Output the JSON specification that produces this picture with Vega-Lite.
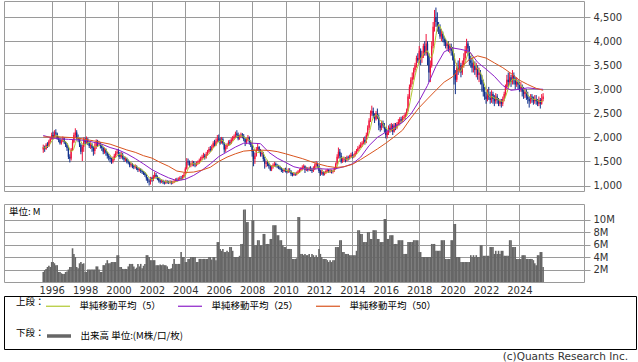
{
"$schema":"https://vega.github.io/schema/vega-lite/v6.json",
"padding":{"left":3,"top":0,"right":0,"bottom":0},
"background":"white",
"config":{
 "font":"DejaVu Sans",
 "view":{"stroke":"#9a9a9a","strokeWidth":1},
 "axis":{"labelFont":"DejaVu Sans","labelFontSize":10,"labelColor":"#333333","gridColor":"#9a9a9a","gridWidth":1,"gridOpacity":1,"tickColor":"#9a9a9a","domainColor":"#9a9a9a"},
 "legend":{"labelFont":"Noto Sans CJK JP","labelFontSize":9.5,"labelColor":"#000000","titleFont":"Noto Sans CJK JP","titleFontSize":9.5,"titleFontWeight":"normal","titleColor":"#000000","padding":0,"symbolType":"stroke","symbolSize":576,"symbolStrokeWidth":1.2,"labelOffset":8.5,"columnPadding":14,"titlePadding":0}
},
"datasets":{
"c":[
{"t":"1995-07","o":1750,"h":1850,"l":1680,"c":1800,"v":1.6,"m":1790},
{"t":"1995-08","o":1800,"h":1830,"l":1700,"c":1760,"v":1.9,"m":1780},
{"t":"1995-09","o":1760,"h":1880,"l":1740,"c":1850,"v":2.1,"m":1800},
{"t":"1995-10","o":1850,"h":1900,"l":1780,"c":1820,"v":2.4,"m":1810},
{"t":"1995-11","o":1820,"h":1950,"l":1800,"c":1920,"v":2.6,"m":1830},
{"t":"1995-12","o":1920,"h":2000,"l":1880,"c":1980,"v":2.4,"m":1866},
{"t":"1996-01","o":1980,"h":2100,"l":1950,"c":2050,"v":3.2,"m":1924},
{"t":"1996-02","o":2050,"h":2120,"l":1960,"c":2000,"v":3.2,"m":1954},
{"t":"1996-03","o":2000,"h":2150,"l":1980,"c":2100,"v":3.0,"m":2010},
{"t":"1996-04","o":2100,"h":2170,"l":2020,"c":2080,"v":2.7,"m":2042},
{"t":"1996-05","o":2080,"h":2100,"l":1950,"c":1980,"v":2.7,"m":2042},
{"t":"1996-06","o":1980,"h":2020,"l":1900,"c":1950,"v":1.6,"m":2022},
{"t":"1996-07","o":1950,"h":1980,"l":1850,"c":1880,"v":1.6,"m":1998},
{"t":"1996-08","o":1880,"h":1960,"l":1850,"c":1920,"v":1.4,"m":1962},
{"t":"1996-09","o":1920,"h":2020,"l":1900,"c":1980,"v":1.3,"m":1942},
{"t":"1996-10","o":1980,"h":2000,"l":1860,"c":1900,"v":1.3,"m":1926},
{"t":"1996-11","o":1900,"h":1920,"l":1800,"c":1850,"v":1.6,"m":1906},
{"t":"1996-12","o":1850,"h":1880,"l":1720,"c":1780,"v":1.7,"m":1886},
{"t":"1997-01","o":1780,"h":1800,"l":1550,"c":1600,"v":2.0,"m":1822},
{"t":"1997-02","o":1600,"h":1650,"l":1480,"c":1560,"v":2.4,"m":1738},
{"t":"1997-03","o":1560,"h":1780,"l":1520,"c":1750,"v":2.4,"m":1708},
{"t":"1997-04","o":1750,"h":1950,"l":1720,"c":1900,"v":5.4,"m":1718},
{"t":"1997-05","o":1900,"h":2100,"l":1880,"c":2050,"v":4.5,"m":1772},
{"t":"1997-06","o":2050,"h":2190,"l":2000,"c":2100,"v":4.0,"m":1872},
{"t":"1997-07","o":2100,"h":2150,"l":1950,"c":2000,"v":2.4,"m":1960},
{"t":"1997-08","o":2000,"h":2060,"l":1900,"c":1950,"v":2.2,"m":2000},
{"t":"1997-09","o":1950,"h":1990,"l":1800,"c":1850,"v":3.0,"m":1990},
{"t":"1997-10","o":1850,"h":1880,"l":1650,"c":1700,"v":3.2,"m":1920},
{"t":"1997-11","o":1700,"h":1850,"l":1510,"c":1800,"v":2.9,"m":1860},
{"t":"1997-12","o":1800,"h":2000,"l":1700,"c":1950,"v":3.0,"m":1850},
{"t":"1998-01","o":1950,"h":2000,"l":1850,"c":1900,"v":1.6,"m":1840},
{"t":"1998-02","o":1900,"h":2020,"l":1870,"c":1950,"v":1.6,"m":1860},
{"t":"1998-03","o":1950,"h":1990,"l":1840,"c":1880,"v":2.0,"m":1896},
{"t":"1998-04","o":1880,"h":1920,"l":1780,"c":1820,"v":2.0,"m":1900},
{"t":"1998-05","o":1820,"h":1900,"l":1760,"c":1850,"v":2.0,"m":1880},
{"t":"1998-06","o":1850,"h":1880,"l":1700,"c":1780,"v":2.0,"m":1856},
{"t":"1998-07","o":1780,"h":1820,"l":1620,"c":1720,"v":2.0,"m":1810},
{"t":"1998-08","o":1720,"h":1880,"l":1650,"c":1800,"v":2.0,"m":1794},
{"t":"1998-09","o":1800,"h":1960,"l":1760,"c":1900,"v":2.5,"m":1810},
{"t":"1998-10","o":1900,"h":1950,"l":1800,"c":1860,"v":2.5,"m":1812},
{"t":"1998-11","o":1860,"h":1930,"l":1820,"c":1880,"v":2.0,"m":1832},
{"t":"1998-12","o":1880,"h":1900,"l":1770,"c":1820,"v":1.6,"m":1852},
{"t":"1999-01","o":1820,"h":1850,"l":1720,"c":1780,"v":1.6,"m":1848},
{"t":"1999-02","o":1780,"h":1800,"l":1650,"c":1700,"v":2.7,"m":1808},
{"t":"1999-03","o":1700,"h":1790,"l":1660,"c":1750,"v":2.7,"m":1786},
{"t":"1999-04","o":1750,"h":1770,"l":1620,"c":1680,"v":3.0,"m":1746},
{"t":"1999-05","o":1680,"h":1700,"l":1560,"c":1620,"v":3.5,"m":1706},
{"t":"1999-06","o":1620,"h":1660,"l":1520,"c":1580,"v":3.0,"m":1666},
{"t":"1999-07","o":1580,"h":1620,"l":1480,"c":1550,"v":3.0,"m":1636},
{"t":"1999-08","o":1550,"h":1580,"l":1450,"c":1500,"v":3.2,"m":1586},
{"t":"1999-09","o":1500,"h":1600,"l":1460,"c":1560,"v":3.2,"m":1562},
{"t":"1999-10","o":1560,"h":1660,"l":1520,"c":1620,"v":3.2,"m":1562},
{"t":"1999-11","o":1620,"h":1720,"l":1580,"c":1680,"v":3.2,"m":1582},
{"t":"1999-12","o":1680,"h":1760,"l":1640,"c":1700,"v":4.3,"m":1612},
{"t":"2000-01","o":1700,"h":1760,"l":1600,"c":1650,"v":4.3,"m":1642},
{"t":"2000-02","o":1650,"h":1700,"l":1550,"c":1600,"v":2.4,"m":1650},
{"t":"2000-03","o":1600,"h":1700,"l":1560,"c":1640,"v":2.4,"m":1654},
{"t":"2000-04","o":1640,"h":1680,"l":1540,"c":1580,"v":2.1,"m":1634},
{"t":"2000-05","o":1580,"h":1610,"l":1490,"c":1540,"v":2.1,"m":1602},
{"t":"2000-06","o":1540,"h":1600,"l":1500,"c":1560,"v":2.1,"m":1584},
{"t":"2000-07","o":1560,"h":1580,"l":1460,"c":1500,"v":2.1,"m":1564},
{"t":"2000-08","o":1500,"h":1540,"l":1440,"c":1480,"v":2.5,"m":1532},
{"t":"2000-09","o":1480,"h":1500,"l":1380,"c":1420,"v":2.9,"m":1500},
{"t":"2000-10","o":1420,"h":1480,"l":1380,"c":1440,"v":2.9,"m":1480},
{"t":"2000-11","o":1440,"h":1470,"l":1360,"c":1400,"v":2.9,"m":1448},
{"t":"2000-12","o":1400,"h":1430,"l":1340,"c":1380,"v":2.5,"m":1424},
{"t":"2001-01","o":1380,"h":1440,"l":1350,"c":1400,"v":2.1,"m":1408},
{"t":"2001-02","o":1400,"h":1420,"l":1320,"c":1360,"v":2.3,"m":1396},
{"t":"2001-03","o":1360,"h":1380,"l":1280,"c":1320,"v":2.9,"m":1372},
{"t":"2001-04","o":1320,"h":1370,"l":1290,"c":1340,"v":2.5,"m":1360},
{"t":"2001-05","o":1340,"h":1360,"l":1260,"c":1300,"v":2.9,"m":1344},
{"t":"2001-06","o":1300,"h":1330,"l":1240,"c":1280,"v":2.2,"m":1320},
{"t":"2001-07","o":1280,"h":1300,"l":1220,"c":1260,"v":2.6,"m":1300},
{"t":"2001-08","o":1260,"h":1280,"l":1180,"c":1220,"v":2.9,"m":1280},
{"t":"2001-09","o":1220,"h":1240,"l":1100,"c":1150,"v":4.3,"m":1242},
{"t":"2001-10","o":1150,"h":1180,"l":1050,"c":1100,"v":4.3,"m":1202},
{"t":"2001-11","o":1100,"h":1130,"l":1000,"c":1080,"v":4.0,"m":1162},
{"t":"2001-12","o":1080,"h":1180,"l":1020,"c":1150,"v":3.5,"m":1140},
{"t":"2002-01","o":1150,"h":1180,"l":1080,"c":1120,"v":3.5,"m":1120},
{"t":"2002-02","o":1120,"h":1220,"l":1090,"c":1180,"v":3.5,"m":1126},
{"t":"2002-03","o":1180,"h":1280,"l":1150,"c":1220,"v":3.5,"m":1150},
{"t":"2002-04","o":1220,"h":1260,"l":1140,"c":1180,"v":2.7,"m":1170},
{"t":"2002-05","o":1180,"h":1210,"l":1110,"c":1150,"v":2.7,"m":1170},
{"t":"2002-06","o":1150,"h":1170,"l":1060,"c":1100,"v":2.7,"m":1166},
{"t":"2002-07","o":1100,"h":1130,"l":1040,"c":1080,"v":2.8,"m":1146},
{"t":"2002-08","o":1080,"h":1130,"l":1050,"c":1100,"v":2.7,"m":1122},
{"t":"2002-09","o":1100,"h":1120,"l":1030,"c":1070,"v":2.8,"m":1100},
{"t":"2002-10","o":1070,"h":1100,"l":1020,"c":1060,"v":2.7,"m":1082},
{"t":"2002-11","o":1060,"h":1120,"l":1030,"c":1090,"v":2.7,"m":1080},
{"t":"2002-12","o":1090,"h":1110,"l":1040,"c":1070,"v":2.5,"m":1078},
{"t":"2003-01","o":1070,"h":1100,"l":1030,"c":1060,"v":2.1,"m":1070},
{"t":"2003-02","o":1060,"h":1110,"l":1040,"c":1080,"v":2.1,"m":1072},
{"t":"2003-03","o":1080,"h":1100,"l":1020,"c":1050,"v":2.2,"m":1070},
{"t":"2003-04","o":1050,"h":1100,"l":1030,"c":1070,"v":2.9,"m":1066},
{"t":"2003-05","o":1070,"h":1120,"l":1050,"c":1090,"v":3.7,"m":1070},
{"t":"2003-06","o":1090,"h":1150,"l":1070,"c":1120,"v":2.9,"m":1082},
{"t":"2003-07","o":1120,"h":1160,"l":1080,"c":1100,"v":2.9,"m":1086},
{"t":"2003-08","o":1100,"h":1170,"l":1090,"c":1130,"v":2.9,"m":1102},
{"t":"2003-09","o":1130,"h":1190,"l":1110,"c":1150,"v":2.9,"m":1118},
{"t":"2003-10","o":1150,"h":1200,"l":1110,"c":1140,"v":4.8,"m":1128},
{"t":"2003-11","o":1140,"h":1220,"l":1120,"c":1180,"v":4.0,"m":1140},
{"t":"2003-12","o":1180,"h":1260,"l":1160,"c":1220,"v":4.0,"m":1164},
{"t":"2004-01","o":1220,"h":1380,"l":1200,"c":1350,"v":3.2,"m":1208},
{"t":"2004-02","o":1350,"h":1570,"l":1330,"c":1500,"v":3.2,"m":1278},
{"t":"2004-03","o":1500,"h":1560,"l":1420,"c":1480,"v":3.7,"m":1346},
{"t":"2004-04","o":1480,"h":1520,"l":1380,"c":1420,"v":3.7,"m":1394},
{"t":"2004-05","o":1420,"h":1480,"l":1380,"c":1440,"v":4.0,"m":1438},
{"t":"2004-06","o":1440,"h":1520,"l":1400,"c":1480,"v":4.0,"m":1464},
{"t":"2004-07","o":1480,"h":1510,"l":1400,"c":1450,"v":4.0,"m":1454},
{"t":"2004-08","o":1450,"h":1480,"l":1380,"c":1420,"v":4.0,"m":1442},
{"t":"2004-09","o":1420,"h":1500,"l":1400,"c":1460,"v":3.2,"m":1450},
{"t":"2004-10","o":1460,"h":1520,"l":1430,"c":1480,"v":3.2,"m":1458},
{"t":"2004-11","o":1480,"h":1560,"l":1450,"c":1520,"v":3.7,"m":1466},
{"t":"2004-12","o":1520,"h":1600,"l":1490,"c":1560,"v":3.7,"m":1488},
{"t":"2005-01","o":1560,"h":1640,"l":1530,"c":1600,"v":3.7,"m":1524},
{"t":"2005-02","o":1600,"h":1680,"l":1570,"c":1620,"v":3.7,"m":1556},
{"t":"2005-03","o":1620,"h":1660,"l":1540,"c":1580,"v":3.7,"m":1576},
{"t":"2005-04","o":1580,"h":1700,"l":1560,"c":1650,"v":3.7,"m":1602},
{"t":"2005-05","o":1650,"h":1740,"l":1620,"c":1700,"v":3.7,"m":1630},
{"t":"2005-06","o":1700,"h":1800,"l":1670,"c":1760,"v":4.0,"m":1662},
{"t":"2005-07","o":1760,"h":1820,"l":1700,"c":1740,"v":4.0,"m":1686},
{"t":"2005-08","o":1740,"h":1850,"l":1720,"c":1800,"v":3.6,"m":1730},
{"t":"2005-09","o":1800,"h":1920,"l":1780,"c":1880,"v":4.0,"m":1776},
{"t":"2005-10","o":1880,"h":1950,"l":1810,"c":1850,"v":4.0,"m":1806},
{"t":"2005-11","o":1850,"h":1980,"l":1820,"c":1920,"v":3.5,"m":1838},
{"t":"2005-12","o":1920,"h":2050,"l":1900,"c":1980,"v":6.4,"m":1886},
{"t":"2006-01","o":1980,"h":2060,"l":1900,"c":1950,"v":6.4,"m":1916},
{"t":"2006-02","o":1950,"h":2000,"l":1850,"c":1900,"v":5.3,"m":1920},
{"t":"2006-03","o":1900,"h":2010,"l":1870,"c":1960,"v":5.0,"m":1942},
{"t":"2006-04","o":1960,"h":2000,"l":1850,"c":1880,"v":5.3,"m":1934},
{"t":"2006-05","o":1880,"h":1900,"l":1680,"c":1750,"v":4.8,"m":1888},
{"t":"2006-06","o":1750,"h":1850,"l":1700,"c":1800,"v":4.8,"m":1858},
{"t":"2006-07","o":1800,"h":1880,"l":1760,"c":1850,"v":5.0,"m":1848},
{"t":"2006-08","o":1850,"h":1940,"l":1820,"c":1900,"v":4.8,"m":1836},
{"t":"2006-09","o":1900,"h":1950,"l":1840,"c":1880,"v":5.6,"m":1836},
{"t":"2006-10","o":1880,"h":1990,"l":1860,"c":1950,"v":5.6,"m":1876},
{"t":"2006-11","o":1950,"h":2030,"l":1920,"c":1980,"v":5.0,"m":1912},
{"t":"2006-12","o":1980,"h":2060,"l":1950,"c":2020,"v":4.0,"m":1946},
{"t":"2007-01","o":2020,"h":2120,"l":1990,"c":2080,"v":4.0,"m":1982},
{"t":"2007-02","o":2080,"h":2150,"l":2000,"c":2050,"v":4.0,"m":2016},
{"t":"2007-03","o":2050,"h":2100,"l":1940,"c":1980,"v":4.0,"m":2022},
{"t":"2007-04","o":1980,"h":2060,"l":1950,"c":2020,"v":4.2,"m":2030},
{"t":"2007-05","o":2020,"h":2100,"l":1990,"c":2060,"v":6.1,"m":2038},
{"t":"2007-06","o":2060,"h":2090,"l":1980,"c":2030,"v":6.1,"m":2028},
{"t":"2007-07","o":2030,"h":2070,"l":1920,"c":1960,"v":11.6,"m":2010},
{"t":"2007-08","o":1960,"h":1990,"l":1820,"c":1900,"v":11.6,"m":1994},
{"t":"2007-09","o":1900,"h":1990,"l":1860,"c":1950,"v":9.6,"m":1980},
{"t":"2007-10","o":1950,"h":2050,"l":1920,"c":2000,"v":9.6,"m":1968},
{"t":"2007-11","o":2000,"h":2020,"l":1850,"c":1900,"v":4.0,"m":1942},
{"t":"2007-12","o":1900,"h":1940,"l":1800,"c":1850,"v":4.0,"m":1920},
{"t":"2008-01","o":1850,"h":1880,"l":1600,"c":1700,"v":9.9,"m":1880},
{"t":"2008-02","o":1700,"h":1750,"l":1400,"c":1550,"v":9.9,"m":1800},
{"t":"2008-03","o":1550,"h":1680,"l":1450,"c":1620,"v":5.9,"m":1724},
{"t":"2008-04","o":1620,"h":1800,"l":1600,"c":1750,"v":5.9,"m":1694},
{"t":"2008-05","o":1750,"h":1870,"l":1720,"c":1800,"v":6.7,"m":1684},
{"t":"2008-06","o":1800,"h":1820,"l":1680,"c":1720,"v":6.7,"m":1688},
{"t":"2008-07","o":1720,"h":1760,"l":1600,"c":1650,"v":5.9,"m":1708},
{"t":"2008-08","o":1650,"h":1720,"l":1600,"c":1680,"v":5.9,"m":1720},
{"t":"2008-09","o":1680,"h":1700,"l":1500,"c":1550,"v":7.7,"m":1680},
{"t":"2008-10","o":1550,"h":1600,"l":1350,"c":1450,"v":7.7,"m":1610},
{"t":"2008-11","o":1450,"h":1520,"l":1380,"c":1480,"v":6.1,"m":1562},
{"t":"2008-12","o":1480,"h":1520,"l":1400,"c":1450,"v":6.1,"m":1522},
{"t":"2009-01","o":1450,"h":1480,"l":1350,"c":1400,"v":6.1,"m":1466},
{"t":"2009-02","o":1400,"h":1430,"l":1300,"c":1330,"v":6.9,"m":1422},
{"t":"2009-03","o":1330,"h":1420,"l":1300,"c":1380,"v":6.9,"m":1408},
{"t":"2009-04","o":1380,"h":1460,"l":1350,"c":1420,"v":9.1,"m":1396},
{"t":"2009-05","o":1420,"h":1490,"l":1390,"c":1450,"v":9.1,"m":1396},
{"t":"2009-06","o":1450,"h":1480,"l":1380,"c":1420,"v":9.1,"m":1400},
{"t":"2009-07","o":1420,"h":1450,"l":1360,"c":1400,"v":7.5,"m":1414},
{"t":"2009-08","o":1400,"h":1430,"l":1340,"c":1380,"v":7.5,"m":1414},
{"t":"2009-09","o":1380,"h":1410,"l":1320,"c":1350,"v":6.7,"m":1400},
{"t":"2009-10","o":1350,"h":1380,"l":1280,"c":1320,"v":6.7,"m":1374},
{"t":"2009-11","o":1320,"h":1350,"l":1260,"c":1300,"v":5.9,"m":1350},
{"t":"2009-12","o":1300,"h":1360,"l":1280,"c":1330,"v":5.6,"m":1336},
{"t":"2010-01","o":1330,"h":1370,"l":1270,"c":1300,"v":5.6,"m":1320},
{"t":"2010-02","o":1300,"h":1330,"l":1250,"c":1280,"v":5.3,"m":1306},
{"t":"2010-03","o":1280,"h":1360,"l":1260,"c":1320,"v":5.3,"m":1306},
{"t":"2010-04","o":1320,"h":1360,"l":1270,"c":1300,"v":5.3,"m":1306},
{"t":"2010-05","o":1300,"h":1320,"l":1200,"c":1240,"v":5.3,"m":1288},
{"t":"2010-06","o":1240,"h":1270,"l":1190,"c":1220,"v":3.7,"m":1272},
{"t":"2010-07","o":1220,"h":1280,"l":1200,"c":1250,"v":3.7,"m":1266},
{"t":"2010-08","o":1250,"h":1270,"l":1200,"c":1230,"v":3.7,"m":1248},
{"t":"2010-09","o":1230,"h":1290,"l":1210,"c":1260,"v":3.8,"m":1240},
{"t":"2010-10","o":1260,"h":1320,"l":1240,"c":1290,"v":10.4,"m":1250},
{"t":"2010-11","o":1290,"h":1350,"l":1260,"c":1320,"v":10.4,"m":1270},
{"t":"2010-12","o":1320,"h":1380,"l":1300,"c":1350,"v":4.5,"m":1290},
{"t":"2011-01","o":1350,"h":1420,"l":1320,"c":1380,"v":4.5,"m":1320},
{"t":"2011-02","o":1380,"h":1440,"l":1350,"c":1400,"v":4.3,"m":1348},
{"t":"2011-03","o":1400,"h":1420,"l":1260,"c":1330,"v":4.5,"m":1356},
{"t":"2011-04","o":1330,"h":1390,"l":1300,"c":1350,"v":4.3,"m":1362},
{"t":"2011-05","o":1350,"h":1380,"l":1290,"c":1320,"v":4.3,"m":1356},
{"t":"2011-06","o":1320,"h":1390,"l":1300,"c":1360,"v":4.5,"m":1352},
{"t":"2011-07","o":1360,"h":1400,"l":1300,"c":1340,"v":4.0,"m":1340},
{"t":"2011-08","o":1340,"h":1370,"l":1260,"c":1300,"v":4.5,"m":1334},
{"t":"2011-09","o":1300,"h":1400,"l":1280,"c":1350,"v":4.3,"m":1334},
{"t":"2011-10","o":1350,"h":1460,"l":1320,"c":1420,"v":4.0,"m":1354},
{"t":"2011-11","o":1420,"h":1510,"l":1380,"c":1460,"v":4.3,"m":1374},
{"t":"2011-12","o":1460,"h":1480,"l":1370,"c":1400,"v":4.0,"m":1386},
{"t":"2012-01","o":1400,"h":1420,"l":1260,"c":1300,"v":5.3,"m":1386},
{"t":"2012-02","o":1300,"h":1330,"l":1200,"c":1250,"v":4.5,"m":1366},
{"t":"2012-03","o":1250,"h":1320,"l":1220,"c":1280,"v":4.0,"m":1338},
{"t":"2012-04","o":1280,"h":1300,"l":1200,"c":1230,"v":3.7,"m":1292},
{"t":"2012-05","o":1230,"h":1290,"l":1210,"c":1260,"v":3.7,"m":1264},
{"t":"2012-06","o":1260,"h":1330,"l":1240,"c":1300,"v":3.7,"m":1264},
{"t":"2012-07","o":1300,"h":1350,"l":1270,"c":1320,"v":3.5,"m":1278},
{"t":"2012-08","o":1320,"h":1340,"l":1260,"c":1290,"v":3.2,"m":1280},
{"t":"2012-09","o":1290,"h":1340,"l":1260,"c":1310,"v":3.5,"m":1296},
{"t":"2012-10","o":1310,"h":1330,"l":1250,"c":1280,"v":3.2,"m":1300},
{"t":"2012-11","o":1280,"h":1330,"l":1250,"c":1300,"v":3.5,"m":1300},
{"t":"2012-12","o":1300,"h":1380,"l":1280,"c":1350,"v":3.5,"m":1306},
{"t":"2013-01","o":1350,"h":1480,"l":1330,"c":1450,"v":5.6,"m":1338},
{"t":"2013-02","o":1450,"h":1650,"l":1430,"c":1600,"v":5.6,"m":1396},
{"t":"2013-03","o":1600,"h":1790,"l":1560,"c":1700,"v":5.6,"m":1480},
{"t":"2013-04","o":1700,"h":1760,"l":1560,"c":1620,"v":6.7,"m":1544},
{"t":"2013-05","o":1620,"h":1680,"l":1460,"c":1500,"v":6.7,"m":1574},
{"t":"2013-06","o":1500,"h":1580,"l":1470,"c":1540,"v":4.8,"m":1592},
{"t":"2013-07","o":1540,"h":1600,"l":1500,"c":1560,"v":4.8,"m":1584},
{"t":"2013-08","o":1560,"h":1590,"l":1480,"c":1520,"v":4.5,"m":1548},
{"t":"2013-09","o":1520,"h":1620,"l":1500,"c":1580,"v":4.5,"m":1540},
{"t":"2013-10","o":1580,"h":1620,"l":1520,"c":1560,"v":4.5,"m":1552},
{"t":"2013-11","o":1560,"h":1640,"l":1540,"c":1600,"v":4.3,"m":1564},
{"t":"2013-12","o":1600,"h":1680,"l":1580,"c":1640,"v":4.3,"m":1580},
{"t":"2014-01","o":1640,"h":1700,"l":1560,"c":1600,"v":4.3,"m":1596},
{"t":"2014-02","o":1600,"h":1660,"l":1570,"c":1620,"v":4.3,"m":1604},
{"t":"2014-03","o":1620,"h":1720,"l":1600,"c":1680,"v":4.3,"m":1628},
{"t":"2014-04","o":1680,"h":1760,"l":1650,"c":1720,"v":5.0,"m":1652},
{"t":"2014-05","o":1720,"h":1820,"l":1700,"c":1780,"v":8.3,"m":1680},
{"t":"2014-06","o":1780,"h":1850,"l":1750,"c":1800,"v":8.3,"m":1720},
{"t":"2014-07","o":1800,"h":1900,"l":1780,"c":1850,"v":7.7,"m":1766},
{"t":"2014-08","o":1850,"h":1920,"l":1800,"c":1880,"v":7.7,"m":1806},
{"t":"2014-09","o":1880,"h":2000,"l":1860,"c":1950,"v":6.4,"m":1852},
{"t":"2014-10","o":1950,"h":2020,"l":1850,"c":1900,"v":6.4,"m":1876},
{"t":"2014-11","o":1900,"h":2100,"l":1880,"c":2050,"v":6.4,"m":1926},
{"t":"2014-12","o":2050,"h":2250,"l":2020,"c":2200,"v":8.0,"m":1996},
{"t":"2015-01","o":2200,"h":2400,"l":2150,"c":2350,"v":8.0,"m":2090},
{"t":"2015-02","o":2350,"h":2560,"l":2320,"c":2500,"v":6.9,"m":2200},
{"t":"2015-03","o":2500,"h":2660,"l":2450,"c":2550,"v":6.9,"m":2330},
{"t":"2015-04","o":2550,"h":2620,"l":2400,"c":2450,"v":8.3,"m":2410},
{"t":"2015-05","o":2450,"h":2500,"l":2300,"c":2380,"v":8.3,"m":2446},
{"t":"2015-06","o":2380,"h":2550,"l":2350,"c":2500,"v":8.3,"m":2476},
{"t":"2015-07","o":2500,"h":2600,"l":2380,"c":2420,"v":6.9,"m":2460},
{"t":"2015-08","o":2420,"h":2480,"l":2150,"c":2250,"v":6.9,"m":2400},
{"t":"2015-09","o":2250,"h":2300,"l":2120,"c":2200,"v":6.4,"m":2350},
{"t":"2015-10","o":2200,"h":2350,"l":2150,"c":2300,"v":6.4,"m":2334},
{"t":"2015-11","o":2300,"h":2350,"l":2200,"c":2250,"v":6.4,"m":2284},
{"t":"2015-12","o":2250,"h":2300,"l":2100,"c":2180,"v":10.1,"m":2236},
{"t":"2016-01","o":2180,"h":2220,"l":1980,"c":2050,"v":10.1,"m":2196},
{"t":"2016-02","o":2050,"h":2150,"l":1980,"c":2100,"v":6.9,"m":2176},
{"t":"2016-03","o":2100,"h":2250,"l":2050,"c":2200,"v":6.9,"m":2156},
{"t":"2016-04","o":2200,"h":2280,"l":2100,"c":2150,"v":7.5,"m":2136},
{"t":"2016-05","o":2150,"h":2300,"l":2120,"c":2250,"v":7.5,"m":2150},
{"t":"2016-06","o":2250,"h":2280,"l":2050,"c":2120,"v":7.5,"m":2164},
{"t":"2016-07","o":2120,"h":2300,"l":2100,"c":2250,"v":6.1,"m":2194},
{"t":"2016-08","o":2250,"h":2300,"l":2150,"c":2200,"v":6.1,"m":2194},
{"t":"2016-09","o":2200,"h":2320,"l":2170,"c":2280,"v":6.1,"m":2220},
{"t":"2016-10","o":2280,"h":2380,"l":2250,"c":2320,"v":6.7,"m":2234},
{"t":"2016-11","o":2320,"h":2420,"l":2250,"c":2380,"v":6.7,"m":2286},
{"t":"2016-12","o":2380,"h":2430,"l":2300,"c":2350,"v":6.7,"m":2306},
{"t":"2017-01","o":2350,"h":2450,"l":2320,"c":2400,"v":6.7,"m":2346},
{"t":"2017-02","o":2400,"h":2470,"l":2360,"c":2420,"v":4.5,"m":2374},
{"t":"2017-03","o":2420,"h":2520,"l":2380,"c":2480,"v":4.5,"m":2406},
{"t":"2017-04","o":2480,"h":2600,"l":2450,"c":2560,"v":4.5,"m":2442},
{"t":"2017-05","o":2560,"h":2900,"l":2540,"c":2850,"v":6.4,"m":2542},
{"t":"2017-06","o":2850,"h":3100,"l":2800,"c":3050,"v":6.4,"m":2672},
{"t":"2017-07","o":3050,"h":3250,"l":3000,"c":3200,"v":6.4,"m":2828},
{"t":"2017-08","o":3200,"h":3350,"l":3100,"c":3250,"v":6.4,"m":2982},
{"t":"2017-09","o":3250,"h":3450,"l":3200,"c":3400,"v":6.7,"m":3150},
{"t":"2017-10","o":3400,"h":3550,"l":3350,"c":3500,"v":6.7,"m":3280},
{"t":"2017-11","o":3500,"h":3700,"l":3450,"c":3650,"v":6.7,"m":3400},
{"t":"2017-12","o":3650,"h":3750,"l":3550,"c":3600,"v":6.7,"m":3480},
{"t":"2018-01","o":3600,"h":3900,"l":3550,"c":3800,"v":4.8,"m":3590},
{"t":"2018-02","o":3800,"h":3850,"l":3500,"c":3650,"v":4.8,"m":3640},
{"t":"2018-03","o":3650,"h":3800,"l":3550,"c":3700,"v":4.0,"m":3680},
{"t":"2018-04","o":3700,"h":3950,"l":3650,"c":3900,"v":4.0,"m":3730},
{"t":"2018-05","o":3900,"h":4000,"l":3700,"c":3750,"v":4.0,"m":3760},
{"t":"2018-06","o":3750,"h":4150,"l":3700,"c":3950,"v":4.0,"m":3790},
{"t":"2018-07","o":3950,"h":4000,"l":3500,"c":3700,"v":4.0,"m":3800},
{"t":"2018-08","o":3700,"h":3750,"l":3150,"c":3350,"v":4.0,"m":3730},
{"t":"2018-09","o":3350,"h":3600,"l":3150,"c":3500,"v":4.0,"m":3650},
{"t":"2018-10","o":3500,"h":4000,"l":3450,"c":3900,"v":6.1,"m":3680},
{"t":"2018-11","o":3900,"h":4400,"l":3850,"c":4300,"v":6.1,"m":3750},
{"t":"2018-12","o":4300,"h":4650,"l":4200,"c":4500,"v":6.1,"m":3910},
{"t":"2019-01","o":4500,"h":4700,"l":4300,"c":4400,"v":5.0,"m":4120},
{"t":"2019-02","o":4400,"h":4600,"l":4200,"c":4300,"v":5.0,"m":4280},
{"t":"2019-03","o":4300,"h":4400,"l":4150,"c":4250,"v":5.0,"m":4350},
{"t":"2019-04","o":4250,"h":4350,"l":4050,"c":4100,"v":5.0,"m":4310},
{"t":"2019-05","o":4100,"h":4250,"l":4000,"c":4150,"v":6.7,"m":4240},
{"t":"2019-06","o":4150,"h":4200,"l":3980,"c":4050,"v":6.7,"m":4170},
{"t":"2019-07","o":4050,"h":4100,"l":3900,"c":3980,"v":6.7,"m":4106},
{"t":"2019-08","o":3980,"h":4050,"l":3850,"c":3900,"v":3.7,"m":4036},
{"t":"2019-09","o":3900,"h":4000,"l":3820,"c":3950,"v":3.7,"m":4006},
{"t":"2019-10","o":3950,"h":4000,"l":3780,"c":3850,"v":3.7,"m":3946},
{"t":"2019-11","o":3850,"h":3950,"l":3750,"c":3900,"v":3.7,"m":3916},
{"t":"2019-12","o":3900,"h":3950,"l":3700,"c":3800,"v":6.7,"m":3880},
{"t":"2020-01","o":3800,"h":3880,"l":3600,"c":3700,"v":6.7,"m":3840},
{"t":"2020-02","o":3700,"h":3750,"l":3100,"c":3300,"v":9.3,"m":3710},
{"t":"2020-03","o":3300,"h":3400,"l":2900,"c":3200,"v":9.3,"m":3580},
{"t":"2020-04","o":3200,"h":3550,"l":3150,"c":3450,"v":4.0,"m":3490},
{"t":"2020-05","o":3450,"h":3600,"l":3300,"c":3400,"v":4.0,"m":3410},
{"t":"2020-06","o":3400,"h":3650,"l":3350,"c":3500,"v":4.0,"m":3370},
{"t":"2020-07","o":3500,"h":3550,"l":3250,"c":3350,"v":3.2,"m":3380},
{"t":"2020-08","o":3350,"h":3600,"l":3300,"c":3500,"v":3.2,"m":3440},
{"t":"2020-09","o":3500,"h":3750,"l":3450,"c":3650,"v":3.2,"m":3480},
{"t":"2020-10","o":3650,"h":3900,"l":3600,"c":3800,"v":3.2,"m":3560},
{"t":"2020-11","o":3800,"h":4050,"l":3750,"c":3950,"v":3.2,"m":3650},
{"t":"2020-12","o":3950,"h":4000,"l":3700,"c":3850,"v":3.2,"m":3750},
{"t":"2021-01","o":3850,"h":3900,"l":3500,"c":3600,"v":3.2,"m":3770},
{"t":"2021-02","o":3600,"h":3700,"l":3450,"c":3550,"v":4.3,"m":3750},
{"t":"2021-03","o":3550,"h":3650,"l":3350,"c":3450,"v":4.0,"m":3680},
{"t":"2021-04","o":3450,"h":3600,"l":3350,"c":3500,"v":4.3,"m":3590},
{"t":"2021-05","o":3500,"h":3580,"l":3300,"c":3400,"v":4.0,"m":3500},
{"t":"2021-06","o":3400,"h":3550,"l":3250,"c":3450,"v":4.3,"m":3470},
{"t":"2021-07","o":3450,"h":3500,"l":3200,"c":3300,"v":4.0,"m":3420},
{"t":"2021-08","o":3300,"h":3450,"l":3150,"c":3350,"v":4.0,"m":3400},
{"t":"2021-09","o":3350,"h":3400,"l":3100,"c":3200,"v":5.9,"m":3340},
{"t":"2021-10","o":3200,"h":3300,"l":2950,"c":3100,"v":5.9,"m":3280},
{"t":"2021-11","o":3100,"h":3200,"l":2850,"c":2950,"v":4.2,"m":3180},
{"t":"2021-12","o":2950,"h":3050,"l":2780,"c":2850,"v":4.2,"m":3090},
{"t":"2022-01","o":2850,"h":2950,"l":2700,"c":2800,"v":4.2,"m":2980},
{"t":"2022-02","o":2800,"h":3000,"l":2750,"c":2900,"v":4.2,"m":2920},
{"t":"2022-03","o":2900,"h":3050,"l":2780,"c":2850,"v":4.2,"m":2870},
{"t":"2022-04","o":2850,"h":2950,"l":2700,"c":2780,"v":5.6,"m":2836},
{"t":"2022-05","o":2780,"h":2980,"l":2720,"c":2900,"v":5.6,"m":2846},
{"t":"2022-06","o":2900,"h":2950,"l":2700,"c":2800,"v":5.6,"m":2846},
{"t":"2022-07","o":2800,"h":2880,"l":2650,"c":2750,"v":4.5,"m":2816},
{"t":"2022-08","o":2750,"h":2920,"l":2700,"c":2850,"v":5.0,"m":2816},
{"t":"2022-09","o":2850,"h":2900,"l":2700,"c":2780,"v":4.5,"m":2816},
{"t":"2022-10","o":2780,"h":2820,"l":2650,"c":2700,"v":5.0,"m":2776},
{"t":"2022-11","o":2700,"h":2800,"l":2650,"c":2750,"v":4.5,"m":2766},
{"t":"2022-12","o":2750,"h":2800,"l":2620,"c":2700,"v":5.0,"m":2756},
{"t":"2023-01","o":2700,"h":2850,"l":2650,"c":2800,"v":5.0,"m":2746},
{"t":"2023-02","o":2800,"h":2950,"l":2750,"c":2900,"v":4.2,"m":2770},
{"t":"2023-03","o":2900,"h":3100,"l":2850,"c":3050,"v":4.2,"m":2840},
{"t":"2023-04","o":3050,"h":3300,"l":3000,"c":3200,"v":4.2,"m":2930},
{"t":"2023-05","o":3200,"h":3350,"l":3050,"c":3150,"v":4.2,"m":3020},
{"t":"2023-06","o":3150,"h":3350,"l":3100,"c":3250,"v":6.7,"m":3110},
{"t":"2023-07","o":3250,"h":3300,"l":3050,"c":3150,"v":6.7,"m":3160},
{"t":"2023-08","o":3150,"h":3400,"l":3100,"c":3300,"v":5.6,"m":3210},
{"t":"2023-09","o":3300,"h":3350,"l":3100,"c":3200,"v":5.6,"m":3210},
{"t":"2023-10","o":3200,"h":3250,"l":3000,"c":3100,"v":5.6,"m":3200},
{"t":"2023-11","o":3100,"h":3250,"l":3050,"c":3150,"v":3.7,"m":3180},
{"t":"2023-12","o":3150,"h":3200,"l":3000,"c":3100,"v":3.7,"m":3170},
{"t":"2024-01","o":3100,"h":3150,"l":2950,"c":3000,"v":3.7,"m":3110},
{"t":"2024-02","o":3000,"h":3150,"l":2950,"c":3050,"v":3.7,"m":3080},
{"t":"2024-03","o":3050,"h":3100,"l":2850,"c":2950,"v":4.3,"m":3050},
{"t":"2024-04","o":2950,"h":3050,"l":2800,"c":2900,"v":4.3,"m":3000},
{"t":"2024-05","o":2900,"h":3000,"l":2820,"c":2950,"v":4.3,"m":2970},
{"t":"2024-06","o":2950,"h":3000,"l":2780,"c":2850,"v":3.7,"m":2940},
{"t":"2024-07","o":2850,"h":2950,"l":2700,"c":2800,"v":3.7,"m":2890},
{"t":"2024-08","o":2800,"h":2850,"l":2620,"c":2750,"v":3.7,"m":2850},
{"t":"2024-09","o":2750,"h":2900,"l":2700,"c":2850,"v":3.7,"m":2840},
{"t":"2024-10","o":2850,"h":2900,"l":2720,"c":2800,"v":3.7,"m":2810},
{"t":"2024-11","o":2800,"h":2850,"l":2680,"c":2750,"v":3.5,"m":2790},
{"t":"2024-12","o":2750,"h":2880,"l":2700,"c":2800,"v":3.0,"m":2790},
{"t":"2025-01","o":2800,"h":2880,"l":2680,"c":2750,"v":2.7,"m":2790},
{"t":"2025-02","o":2750,"h":2800,"l":2650,"c":2700,"v":4.3,"m":2760},
{"t":"2025-03","o":2700,"h":2850,"l":2650,"c":2780,"v":4.3,"m":2756},
{"t":"2025-04","o":2780,"h":2820,"l":2600,"c":2700,"v":4.8,"m":2746},
{"t":"2025-05","o":2700,"h":2900,"l":2680,"c":2800,"v":4.8,"m":2746},
{"t":"2025-06","o":2800,"h":2920,"l":2750,"c":2850,"v":2.4,"m":2766}
],
"m25":[
{"t":"1995-07","v":2040},{"t":"1996-01","v":1990},{"t":"1996-07","v":1970},{"t":"1997-01","v":1960},{"t":"1997-07","v":1950},{"t":"1998-01","v":1940},{"t":"1998-07","v":1900},{"t":"1999-01","v":1860},{"t":"1999-07","v":1790},{"t":"2000-01","v":1740},{"t":"2000-07","v":1660},{"t":"2001-01","v":1560},{"t":"2001-07","v":1450},{"t":"2002-01","v":1330},{"t":"2002-07","v":1240},{"t":"2003-01","v":1160},{"t":"2003-07","v":1100},{"t":"2004-01","v":1130},{"t":"2004-07","v":1210},{"t":"2005-01","v":1320},{"t":"2005-07","v":1450},{"t":"2006-01","v":1600},{"t":"2006-07","v":1700},{"t":"2007-01","v":1800},{"t":"2007-07","v":1880},{"t":"2008-01","v":1880},{"t":"2008-07","v":1870},{"t":"2009-01","v":1690},{"t":"2009-07","v":1570},{"t":"2010-01","v":1480},{"t":"2010-07","v":1390},{"t":"2011-01","v":1350},{"t":"2011-07","v":1340},{"t":"2012-01","v":1350},{"t":"2012-07","v":1340},{"t":"2013-01","v":1350},{"t":"2013-07","v":1390},{"t":"2014-01","v":1450},{"t":"2014-07","v":1590},{"t":"2015-01","v":1830},{"t":"2015-07","v":2000},{"t":"2016-01","v":2110},{"t":"2016-07","v":2220},{"t":"2017-01","v":2310},{"t":"2017-07","v":2480},{"t":"2018-01","v":2760},{"t":"2018-07","v":3080},{"t":"2019-01","v":3480},{"t":"2019-07","v":3780},{"t":"2020-01","v":3860},{"t":"2020-07","v":3830},{"t":"2021-01","v":3790},{"t":"2021-07","v":3560},{"t":"2022-01","v":3420},{"t":"2022-07","v":3270},{"t":"2023-01","v":3080},{"t":"2023-07","v":2980},{"t":"2024-01","v":3000},{"t":"2024-07","v":3030},{"t":"2025-01","v":3010},{"t":"2025-06","v":3000}
],
"m50":[
{"t":"1995-07","v":2010},{"t":"1996-07","v":2010},{"t":"1997-07","v":1990},{"t":"1998-07","v":1930},{"t":"1999-07","v":1860},{"t":"2000-01","v":1800},{"t":"2000-07","v":1740},{"t":"2001-01","v":1690},{"t":"2001-07","v":1620},{"t":"2002-01","v":1570},{"t":"2002-07","v":1480},{"t":"2003-01","v":1400},{"t":"2003-07","v":1300},{"t":"2004-01","v":1270},{"t":"2004-07","v":1280},{"t":"2005-01","v":1320},{"t":"2005-07","v":1380},{"t":"2006-01","v":1500},{"t":"2006-07","v":1590},{"t":"2007-01","v":1660},{"t":"2007-07","v":1715},{"t":"2008-01","v":1730},{"t":"2008-07","v":1735},{"t":"2009-01","v":1730},{"t":"2009-07","v":1705},{"t":"2010-01","v":1660},{"t":"2010-07","v":1610},{"t":"2011-01","v":1560},{"t":"2011-07","v":1500},{"t":"2012-01","v":1445},{"t":"2012-07","v":1400},{"t":"2013-01","v":1375},{"t":"2013-07","v":1390},{"t":"2014-01","v":1440},{"t":"2014-07","v":1540},{"t":"2015-01","v":1650},{"t":"2015-07","v":1760},{"t":"2016-01","v":1880},{"t":"2016-07","v":2010},{"t":"2017-01","v":2150},{"t":"2017-07","v":2400},{"t":"2018-01","v":2620},{"t":"2018-07","v":2800},{"t":"2019-01","v":2980},{"t":"2019-07","v":3150},{"t":"2020-01","v":3260},{"t":"2020-07","v":3460},{"t":"2021-01","v":3620},{"t":"2021-07","v":3695},{"t":"2022-01","v":3650},{"t":"2022-07","v":3550},{"t":"2023-01","v":3450},{"t":"2023-07","v":3330},{"t":"2024-01","v":3190},{"t":"2024-07","v":3100},{"t":"2025-01","v":3020},{"t":"2025-06","v":2980}
]
},
"vconcat":[
{"vconcat":[
 {"width":580,"height":190,
  "encoding":{"x":{"field":"t","type":"temporal","scale":{"type":"utc","domain":[{"year":1993,"month":6,"date":12,"utc":true},{"year":2027,"month":7,"date":26,"utc":true}]},"axis":{"values":[{"year":1996,"utc":true},{"year":1998,"utc":true},{"year":2000,"utc":true},{"year":2002,"utc":true},{"year":2004,"utc":true},{"year":2006,"utc":true},{"year":2008,"utc":true},{"year":2010,"utc":true},{"year":2012,"utc":true},{"year":2014,"utc":true},{"year":2016,"utc":true},{"year":2018,"utc":true},{"year":2020,"utc":true},{"year":2022,"utc":true},{"year":2024,"utc":true}],"grid":true,"labels":false,"ticks":false,"domain":false,"title":null}}},
  "layer":[
   {"data":{"name":"c"},"mark":{"type":"rule","strokeWidth":1},
    "encoding":{"y":{"field":"l","type":"quantitative","scale":{"domain":[886,4836],"nice":false,"zero":false},"axis":{"orient":"right","values":[1000,1500,2000,2500,3000,3500,4000,4500],"format":",.0f","labelOverlap":false,"grid":true,"domain":false,"tickSize":6,"labelPadding":3,"title":null}},"y2":{"field":"h"},
    "color":{"condition":{"test":"datum.c >= datum.o","value":"#f0143c"},"value":"#10308c"}}},
   {"data":{"name":"c"},"mark":{"type":"bar","width":1.3},
    "encoding":{"y":{"field":"o","type":"quantitative","scale":{"domain":[886,4836],"nice":false,"zero":false},"axis":{"orient":"right","values":[1000,1500,2000,2500,3000,3500,4000,4500],"format":",.0f","labelOverlap":false,"grid":true,"domain":false,"tickSize":6,"labelPadding":3,"title":null}},"y2":{"field":"c"},
    "color":{"condition":{"test":"datum.c >= datum.o","value":"#f0143c"},"value":"#10308c"}}},
   {"data":{"name":"c"},"mark":{"type":"line","strokeWidth":1},
    "encoding":{"y":{"field":"m","type":"quantitative","scale":{"domain":[886,4836],"nice":false,"zero":false},"axis":{"orient":"right","values":[1000,1500,2000,2500,3000,3500,4000,4500],"format":",.0f","labelOverlap":false,"grid":true,"domain":false,"tickSize":6,"labelPadding":3,"title":null}},
    "stroke":{"datum":"単純移動平均（5）","type":"nominal","scale":{"domain":["単純移動平均（5）","単純移動平均（25）","単純移動平均（50）"],"range":["#b0c830","#8c1fc8","#d9541e"]},
     "legend":{"title":"上段：","orient":"none","legendX":12,"legendY":292,"direction":"horizontal","titleOrient":"left"}}}},
   {"data":{"name":"m25"},"mark":{"type":"line","strokeWidth":1},
    "encoding":{"y":{"field":"v","type":"quantitative","scale":{"domain":[886,4836],"nice":false,"zero":false},"axis":{"orient":"right","values":[1000,1500,2000,2500,3000,3500,4000,4500],"format":",.0f","labelOverlap":false,"grid":true,"domain":false,"tickSize":6,"labelPadding":3,"title":null}},"stroke":{"datum":"単純移動平均（25）","type":"nominal"}}},
   {"data":{"name":"m50"},"mark":{"type":"line","strokeWidth":1},
    "encoding":{"y":{"field":"v","type":"quantitative","scale":{"domain":[886,4836],"nice":false,"zero":false},"axis":{"orient":"right","values":[1000,1500,2000,2500,3000,3500,4000,4500],"format":",.0f","labelOverlap":false,"grid":true,"domain":false,"tickSize":6,"labelPadding":3,"title":null}},"stroke":{"datum":"単純移動平均（50）","type":"nominal"}}}
  ]},
 {"width":580,"height":78,
  "title":{"text":"単位: M","orient":"top","anchor":"start","frame":"group","offset":-20,"baseline":"alphabetic","dx":5,"font":"Noto Sans CJK JP","fontSize":9.5,"fontWeight":"normal","color":"#000000"},
  "data":{"name":"c"},
  "mark":{"type":"bar","width":1.6},
  "encoding":{
   "x":{"field":"t","type":"temporal","scale":{"type":"utc","domain":[{"year":1993,"month":6,"date":12,"utc":true},{"year":2027,"month":7,"date":26,"utc":true}]},"axis":{"values":[{"year":1996,"utc":true},{"year":1998,"utc":true},{"year":2000,"utc":true},{"year":2002,"utc":true},{"year":2004,"utc":true},{"year":2006,"utc":true},{"year":2008,"utc":true},{"year":2010,"utc":true},{"year":2012,"utc":true},{"year":2014,"utc":true},{"year":2016,"utc":true},{"year":2018,"utc":true},{"year":2020,"utc":true},{"year":2022,"utc":true},{"year":2024,"utc":true}],"format":"%Y","grid":true,"ticks":false,"domain":false,"labelPadding":3,"labelFlush":false,"labelOverlap":false,"title":null}},
   "y":{"field":"v","type":"quantitative","scale":{"domain":[0,12.5],"nice":false},"axis":{"orient":"right","values":[2,4,6,8,10],"labelExpr":"datum.value + 'M'","grid":true,"domain":false,"tickSize":6,"labelPadding":3,"title":null}},
   "fill":{"datum":"出来高 単位:(M株/口/枚)","type":"nominal","scale":{"range":["#666666"]},
    "legend":{"title":"下段：","orient":"none","legendX":12,"legendY":321,"direction":"horizontal","titleOrient":"left","labelOffset":7.5,
     "encode":{"symbols":{"update":{"stroke":{"value":"#666666"},"strokeWidth":{"value":3.5},"fill":{"value":"transparent"}}}}}}
  }}
 ],"spacing":11,"bounds":"full"},
{"width":632,"height":53,
 "data":{"values":[{}]},
 "mark":{"type":"rule","opacity":0},
 "encoding":{},
 "view":{"stroke":"#000000","strokeWidth":1},
 "title":{"text":"(c)Quants Research Inc.","orient":"bottom","anchor":"end","offset":3,"dx":-8,"font":"DejaVu Sans","fontSize":10.5,"fontWeight":"normal","color":"#333333"}}
],
"spacing":-1.5,
"bounds":"full"
}
